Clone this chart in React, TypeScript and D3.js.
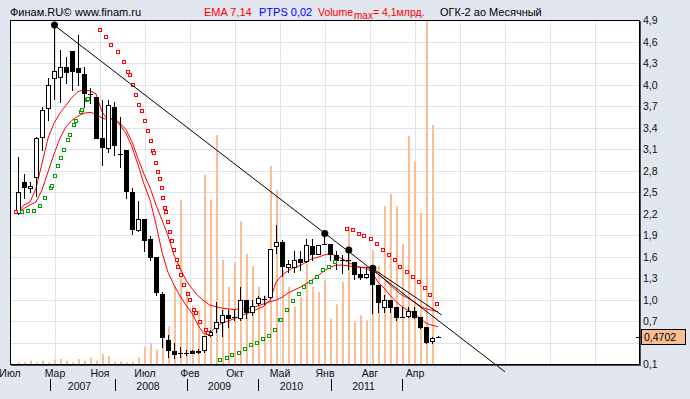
import React, { useEffect, useRef } from 'react';
import * as d3 from 'd3';

const W = 690;
const H = 399;

// ОГК-2 ао, monthly candles (index 0 = first month on the chart)
const opens = [2.21, 2.64, 2.55, 2.71, 3.27, 3.67, 4.09, 4.10, 4.24, 4.47, 4.23, 4.14, 3.87, 3.82, 3.25, 3.12, 3.68, 3.03, 3.09, 2.50, 1.97, 2.13, 1.84, 1.59, 1.07, 0.44, 0.28, 0.26, 0.26, 0.28, 0.27, 0.29, 0.51, 0.60, 0.69, 0.78, 0.75, 0.74, 0.99, 0.82, 0.95, 1.01, 1.03, 1.74, 1.80, 1.46, 1.46, 1.57, 1.54, 1.74, 1.64, 1.78, 1.78, 1.62, 1.55, 1.55, 1.53, 1.36, 1.31, 1.42, 1.20, 0.89, 1.00, 0.89, 0.76, 0.77, 0.84, 0.75, 0.62, 0.42, 0.47];
const highs = [2.99, 2.75, 2.64, 3.27, 3.68, 4.09, 4.83, 4.48, 4.38, 4.47, 4.69, 4.25, 3.95, 3.83, 3.79, 3.79, 3.76, 3.55, 3.09, 2.55, 2.38, 2.13, 1.88, 1.59, 1.10, 0.50, 0.39, 0.34, 0.30, 0.30, 0.31, 0.49, 0.58, 0.96, 0.85, 0.85, 0.85, 1.17, 0.99, 0.99, 1.05, 1.05, 1.71, 2.04, 1.83, 1.55, 1.67, 1.68, 1.84, 1.84, 1.76, 1.92, 1.78, 1.67, 1.62, 1.69, 1.53, 1.46, 1.45, 1.42, 1.20, 1.06, 1.00, 0.89, 0.89, 0.90, 0.90, 0.75, 0.62, 0.48, 0.49];
const lows = [2.20, 2.42, 2.50, 2.44, 3.09, 3.50, 3.80, 3.76, 4.02, 3.92, 3.99, 3.69, 3.74, 3.25, 2.87, 3.06, 3.02, 2.85, 2.41, 1.91, 1.96, 1.67, 1.55, 1.06, 0.34, 0.20, 0.18, 0.20, 0.22, 0.25, 0.25, 0.27, 0.49, 0.55, 0.49, 0.62, 0.72, 0.72, 0.74, 0.78, 0.92, 0.94, 1.02, 1.65, 1.33, 1.39, 1.39, 1.41, 1.53, 1.55, 1.64, 1.77, 1.55, 1.43, 1.37, 1.43, 1.29, 1.29, 1.30, 0.81, 0.82, 0.83, 0.83, 0.71, 0.75, 0.76, 0.74, 0.60, 0.40, 0.39, 0.47];
const closes = [2.50, 2.57, 2.59, 3.25, 3.65, 3.99, 4.19, 4.24, 4.17, 4.19, 4.18, 3.88, 3.87, 3.26, 3.13, 3.72, 3.16, 3.03, 2.51, 1.99, 2.12, 1.83, 1.59, 1.10, 0.47, 0.29, 0.24, 0.26, 0.26, 0.26, 0.28, 0.49, 0.55, 0.69, 0.78, 0.74, 0.75, 0.99, 0.82, 0.91, 1.02, 1.01, 1.71, 1.80, 1.47, 1.49, 1.55, 1.53, 1.76, 1.63, 1.76, 1.78, 1.63, 1.55, 1.55, 1.55, 1.36, 1.31, 1.36, 1.22, 0.96, 1.00, 0.89, 0.75, 0.76, 0.84, 0.75, 0.62, 0.41, 0.46, 0.4702];

// volume, bln shares
const volumes = [0.02, 0.02, 0.04, 0.02, 0.04, 0.02, 0.05, 0.06, 0.04, 0.02, 0.06, 0.04, 0.075, 0.04, 0.12, 0.095, 0.03, 0.03, 0.02, 0.03, 0.08, 0.20, 0.25, 0.17, 0.29, 0.45, 0.93, 1.96, 0.88, 0.70, 0.64, 2.26, 1.96, 2.73, 1.24, 0.92, 1.21, 1.70, 1.31, 1.17, 0.92, 0.82, 2.36, 2.07, 1.12, 0.92, 0.68, 0.80, 1.20, 0.92, 0.86, 1.00, 0.54, 0.71, 0.98, 1.64, 0.50, 0.58, 0.52, 1.36, 1.17, 1.88, 2.03, 1.88, 1.43, 2.72, 2.41, 1.80, 4.10, 2.85, 0];

const ema7 = [2.22, 2.32, 2.36, 2.55, 2.90, 3.25, 3.46, 3.60, 3.71, 3.82, 3.90, 3.93, 3.91, 3.87, 3.62, 3.50, 3.54, 3.43, 3.32, 3.13, 2.88, 2.61, 2.39, 2.05, 1.66, 1.38, 1.20, 1.05, 0.92, 0.81, 0.64, 0.52, 0.53, 0.62, 0.67, 0.70, 0.73, 0.77, 0.80, 0.83, 0.87, 0.91, 0.99, 1.24, 1.34, 1.40, 1.45, 1.47, 1.52, 1.57, 1.59, 1.62, 1.64, 1.61, 1.57, 1.52, 1.48, 1.45, 1.44, 1.38, 1.24, 1.16, 1.06, 0.97, 0.90, 0.85, 0.81, 0.74, 0.67, 0.64, 0.62];
const ema14 = [2.22, 2.27, 2.32, 2.36, 2.53, 2.78, 3.03, 3.25, 3.41, 3.50, 3.56, 3.60, 3.61, 3.59, 3.53, 3.51, 3.52, 3.46, 3.37, 3.20, 2.97, 2.75, 2.56, 2.32, 2.11, 1.89, 1.62, 1.44, 1.27, 1.15, 1.05, 0.98, 0.92, 0.90, 0.88, 0.87, 0.86, 0.87, 0.87, 0.88, 0.91, 0.94, 0.97, 0.99, 1.03, 1.09, 1.13, 1.17, 1.22, 1.27, 1.33, 1.40, 1.45, 1.48, 1.48, 1.47, 1.46, 1.45, 1.45, 1.43, 1.36, 1.29, 1.20, 1.13, 1.06, 1.02, 0.97, 0.91, 0.87, 0.85, 0.83];

// parabolic (PTPS) dots: [position on candle axis, price]
const sarRed: [number, number][] = [
  [-0.28, 2.22],
  [13.72, 4.76], [14.72, 4.66], [15.55, 4.55], [16.72, 4.45], [17.72, 4.31], [18.38, 4.18], [18.72, 4.13], [19.22, 3.99], [19.72, 3.85],
  [20.22, 3.72], [20.72, 3.63], [21.22, 3.49], [21.72, 3.35], [22.22, 3.21], [22.55, 3.07], [22.72, 3.05], [23.05, 2.91], [23.38, 2.78],
  [23.72, 2.68], [24.05, 2.55], [24.22, 2.41], [24.55, 2.27], [24.72, 2.22], [25.05, 2.08], [25.38, 1.94], [25.72, 1.81], [26.05, 1.69],
  [26.55, 1.55], [26.72, 1.46], [27.22, 1.34], [27.72, 1.20], [28.38, 1.07], [28.72, 0.99], [29.38, 0.86], [29.72, 0.81], [30.38, 0.68],
  [31.38, 0.57], [31.72, 0.53],
  [54.75, 1.99], [55.75, 1.97], [56.75, 1.92], [57.75, 1.88], [58.75, 1.84], [59.75, 1.77], [60.75, 1.69], [61.75, 1.62], [62.75, 1.55],
  [63.75, 1.46], [64.75, 1.38], [65.75, 1.31], [66.75, 1.24], [67.75, 1.16], [68.75, 1.06], [69.75, 0.94]
];
const sarGreen: [number, number][] = [
  [0.72, 2.22], [1.72, 2.23], [2.72, 2.24], [3.72, 2.31], [4.55, 2.41], [5.55, 2.55], [5.72, 2.58], [6.22, 2.72], [6.72, 2.86], [7.22, 2.98],
  [7.72, 3.08], [8.38, 3.22], [8.72, 3.29], [9.38, 3.43], [9.72, 3.49], [10.55, 3.61], [10.72, 3.64], [11.55, 3.78], [11.72, 3.80],
  [33.67, 0.15], [34.75, 0.19], [35.75, 0.22], [36.78, 0.25], [37.78, 0.31], [38.78, 0.36], [39.78, 0.39], [40.78, 0.445], [41.78, 0.49],
  [42.78, 0.58], [43.62, 0.71], [43.78, 0.72], [44.78, 0.86], [45.78, 0.975], [46.78, 1.07], [47.62, 1.17], [48.78, 1.25], [49.78, 1.32],
  [50.78, 1.41], [51.78, 1.46], [52.75, 1.52]
];

// trend line points
const trendDots: [number, number][] = [[6, 4.83], [51.05, 1.92], [55.05, 1.69], [59.05, 1.435]];
const trendLines: [number, number][][] = [
  [[6, 4.83], [81.17, -0.01]],
  [[59.05, 1.435], [70.62, 0.784]]
];

const yTicks = [4.9, 4.6, 4.3, 4.0, 3.7, 3.4, 3.1, 2.8, 2.5, 2.2, 1.9, 1.6, 1.3, 1.0, 0.7, 0.4, 0.1];
const monthLabels = ['Июл', 'Мар', 'Ноя', 'Июл', 'Фев', 'Окт', 'Май', 'Янв', 'Авг', 'Апр'];
const yearLabels = ['2007', '2008', '2009', '2010', '2011'];
const yearSepIdx = [5.33, 16.17, 28.17, 40, 52.17, 64];
const lastPrice = 0.4702;

const FONT = '"Liberation Sans", Arial, sans-serif';

const fmt = (v: number, d: number) => v.toFixed(d).replace('.', ',');

const App: React.FC = () => {
  const svgRef = useRef<SVGSVGElement>(null);

  useEffect(() => {
    if (!svgRef.current) return;
    const svg = d3.select(svgRef.current);
    svg.selectAll('*').remove();

    const left = 10, top = 20, right = 639, bottom = 364;

    svg.append('rect').attr('width', W).attr('height', H).attr('fill', '#e1e6ef');
    svg.append('rect')
      .attr('x', left).attr('y', top)
      .attr('width', right - left).attr('height', bottom - top)
      .attr('fill', '#fff');

    const x = d3.scaleLinear().domain([0, 70]).range([18, 438]);
    const y = d3.scaleLinear().domain([0.1, 4.9]).range([bottom, top]);
    const yVol = d3.scaleLinear().domain([0, 4.1]).range([bottom, top]);

    svg.append('clipPath').attr('id', 'plot-clip')
      .append('rect').attr('x', left).attr('y', top).attr('width', right - left).attr('height', bottom - top);

    const plot = svg.append('g').attr('clip-path', 'url(#plot-clip)');

    // grid
    const gridIdx = d3.range(1, 14).map(k => -4 / 3 + 7.5 * k);
    plot.selectAll('.hgrid')
      .data(yTicks)
      .enter()
      .append('line')
      .attr('x1', left).attr('x2', right)
      .attr('y1', d => Math.round(y(d)) + 0.5).attr('y2', d => Math.round(y(d)) + 0.5)
      .attr('stroke', '#dde3ee');
    plot.selectAll('.vgrid')
      .data(gridIdx)
      .enter()
      .append('line')
      .attr('x1', d => Math.round(x(d)) + 0.5).attr('x2', d => Math.round(x(d)) + 0.5)
      .attr('y1', top).attr('y2', bottom)
      .attr('stroke', '#dde3ee');

    // volume
    plot.selectAll('.vol')
      .data(volumes)
      .enter()
      .append('rect')
      .attr('x', (_, i) => x(i))
      .attr('y', d => yVol(d))
      .attr('width', 2)
      .attr('height', d => bottom - yVol(d))
      .attr('fill', '#fbbd94');

    // EMA lines
    const line = d3.line<number>().x((_, i) => x(i)).y(d => y(d));
    [ema7, ema14].forEach(s => {
      plot.append('path')
        .attr('d', line(s))
        .attr('fill', 'none')
        .attr('stroke', '#ff0000')
        .attr('stroke-width', 1);
    });

    // trend lines (not clipped, the main one runs past the bottom)
    trendLines.forEach(l => {
      svg.append('line')
        .attr('x1', x(l[0][0])).attr('y1', y(l[0][1]))
        .attr('x2', x(l[1][0])).attr('y2', y(l[1][1]))
        .attr('stroke', '#000')
        .attr('stroke-width', 1);
    });

    // candles
    const candles = plot.append('g');
    closes.forEach((c, i) => {
      const o = opens[i];
      const cx = x(i);
      candles.append('line')
        .attr('x1', cx + 0.5).attr('x2', cx + 0.5)
        .attr('y1', Math.round(y(highs[i]))).attr('y2', Math.round(y(lows[i])) + 1)
        .attr('stroke', '#000');
      const yTop = Math.round(y(Math.max(o, c)));
      const yBot = Math.round(y(Math.min(o, c)));
      if (yBot - yTop < 1) {
        candles.append('line')
          .attr('x1', cx - 2).attr('x2', cx + 3)
          .attr('y1', yTop + 0.5).attr('y2', yTop + 0.5)
          .attr('stroke', '#000');
      } else if (c > o) {
        candles.append('rect')
          .attr('x', cx - 1.5).attr('y', yTop + 0.5)
          .attr('width', 4).attr('height', yBot - yTop)
          .attr('fill', '#fff').attr('stroke', '#000');
      } else {
        candles.append('rect')
          .attr('x', cx - 2).attr('y', yTop)
          .attr('width', 5).attr('height', yBot - yTop + 1)
          .attr('fill', '#000');
      }
    });

    // parabolic dots
    const drawSar = (pts: [number, number][], color: string) => {
      plot.selectAll(null)
        .data(pts)
        .enter()
        .append('rect')
        .attr('x', d => Math.round(x(d[0])) - 1.5)
        .attr('y', d => Math.round(y(d[1])) - 1.5)
        .attr('width', 3).attr('height', 3)
        .attr('fill', '#fff')
        .attr('stroke', color)
        .attr('stroke-width', 1);
    };
    drawSar(sarRed, '#ff0000');
    drawSar(sarGreen, '#00a000');

    // trend dots
    svg.selectAll('.tdot')
      .data(trendDots)
      .enter()
      .append('circle')
      .attr('cx', d => x(d[0]) + 0.5)
      .attr('cy', d => y(d[1]))
      .attr('r', 3.5)
      .attr('fill', '#000');

    // frame
    svg.append('rect')
      .attr('x', left + 0.5).attr('y', top + 0.5)
      .attr('width', right - left).attr('height', bottom - top)
      .attr('fill', 'none').attr('stroke', '#000');
    svg.append('line').attr('x1', right + 1.5).attr('x2', right + 1.5).attr('y1', top + 1).attr('y2', bottom + 2)
      .attr('stroke', '#4a4e58');
    svg.append('line').attr('x1', left + 1).attr('x2', right + 2).attr('y1', bottom + 1.5).attr('y2', bottom + 1.5)
      .attr('stroke', '#4a4e58');

    // right axis
    const yPrice = y(lastPrice);
    svg.selectAll('.ylab')
      .data(yTicks.filter(t => Math.abs(y(t) - yPrice) > 9))
      .enter()
      .append('text')
      .attr('x', 643)
      .attr('y', d => y(d) + 4)
      .attr('font-family', FONT)
      .attr('font-size', 10.5)
      .attr('fill', '#111')
      .text(d => fmt(d, 1));

    svg.append('line')
      .attr('x1', 636).attr('x2', 641)
      .attr('y1', Math.round(yPrice) + 0.5).attr('y2', Math.round(yPrice) + 0.5)
      .attr('stroke', '#000');
    svg.append('rect')
      .attr('x', 641.5).attr('y', Math.round(yPrice) - 7.5)
      .attr('width', 44).attr('height', 15)
      .attr('fill', '#f9bf91').attr('stroke', '#000');
    svg.append('text')
      .attr('x', 644).attr('y', Math.round(yPrice) + 4)
      .attr('font-family', FONT).attr('font-size', 10.5).attr('fill', '#000')
      .text(fmt(lastPrice, 4));

    // bottom axis
    svg.selectAll('.mlab')
      .data(monthLabels)
      .enter()
      .append('text')
      .attr('x', (_, k) => x(-4 / 3 + 7.5 * k))
      .attr('y', 377)
      .attr('text-anchor', 'middle')
      .attr('font-family', FONT)
      .attr('font-size', 10.5)
      .attr('fill', '#111')
      .text(d => d);

    svg.selectAll('.ysep')
      .data(yearSepIdx)
      .enter()
      .append('line')
      .attr('x1', d => Math.round(x(d)) + 0.5).attr('x2', d => Math.round(x(d)) + 0.5)
      .attr('y1', 379).attr('y2', 391)
      .attr('stroke', '#000');

    svg.selectAll('.ylabel')
      .data(yearLabels)
      .enter()
      .append('text')
      .attr('x', (_, k) => (x(yearSepIdx[k]) + x(yearSepIdx[k + 1])) / 2 - 3)
      .attr('y', 390)
      .attr('text-anchor', 'middle')
      .attr('font-family', FONT)
      .attr('font-size', 10.5)
      .attr('fill', '#111')
      .text(d => d);

    // header
    const head = svg.append('g').attr('font-family', FONT).attr('font-size', 11);
    head.append('text').attr('x', 10).attr('y', 16).attr('fill', '#000').text('Финам.RU©');
    head.append('text').attr('x', 75).attr('y', 16).attr('fill', '#000').text('www.finam.ru');
    head.append('text').attr('x', 204).attr('y', 16).attr('fill', '#ff0000').text('EMA 7,14');
    head.append('text').attr('x', 259).attr('y', 16).attr('fill', '#0000ff').text('PTPS 0,02');
    const vt = head.append('text').attr('x', 318).attr('y', 16).attr('fill', '#ff0000').attr('font-size', 10.5);
    vt.append('tspan').text('Volume');
    vt.append('tspan').attr('dx', 1).attr('dy', 3).attr('font-size', 10).text('max');
    vt.append('tspan').attr('dy', -3).text('= 4,1млрд.');
    head.append('text').attr('x', 440).attr('y', 16).attr('fill', '#000').text('ОГК-2 ао Месячный');
  }, []);

  return (
    <svg
      ref={svgRef}
      width={W}
      height={H}
      style={{ position: 'absolute', left: 0, top: 0, display: 'block' }}
    />
  );
};

export default App;
